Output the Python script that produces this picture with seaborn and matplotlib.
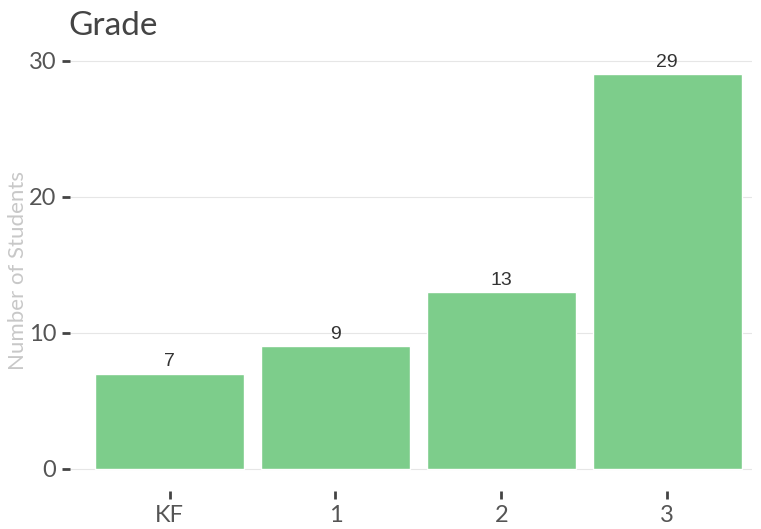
import matplotlib
matplotlib.use("Agg")
import matplotlib.pyplot as plt
import seaborn as sns
import pandas as pd

grades = ["KF", "1", "2", "3"]
students = [7, 9, 13, 29]
yticks = [0, 10, 20, 30]

bar_color = "#7dcd8b"


def main():
    sns.set_theme(style="white")
    plt.rcParams["font.family"] = ["Lato", "DejaVu Sans"]

    df = pd.DataFrame({"Grade": grades, "Students": students})

    fig = plt.figure(figsize=(7.61, 5.29), dpi=100)
    ax = fig.add_axes([0.092, 0.106, 0.896, 0.797])

    sns.barplot(data=df, x="Grade", y="Students", color=bar_color,
                saturation=1, width=0.9, ax=ax, order=grades)

    # value labels
    for i, v in enumerate(students):
        ax.text(i, v + 0.25, str(v), ha="center", va="bottom",
                fontsize=14, color="#333333", family="Liberation Sans")

    ax.set_xlim(-0.6, 3.51)
    ax.set_ylim(-0.3, 30.7)
    ax.set_yticks(yticks)

    ax.yaxis.grid(True, color="#e6e6e6", linewidth=0.8)
    ax.set_axisbelow(True)
    for s in ax.spines.values():
        s.set_visible(False)
    ax.spines["bottom"].set_position(("outward", 13))

    ax.tick_params(axis="y", left=True, length=6, width=2, color="#444444",
                   labelsize=17, labelcolor="#555555", pad=4)
    ax.tick_params(axis="x", bottom=True, length=6, width=2, color="#444444",
                   labelsize=17, labelcolor="#555555", pad=4)

    ax.set_xlabel("")
    ax.set_ylabel("Number of Students", fontsize=16, color="#c8c8c8")
    ax.yaxis.set_label_coords(-0.076, 0.48)
    ax.yaxis.label.set_va("center")
    ax.set_title("Grade", loc="left", fontsize=24, color="#444444", x=-0.003, pad=12)

    fig.savefig("out.png", dpi=100)


if __name__ == "__main__":
    main()
